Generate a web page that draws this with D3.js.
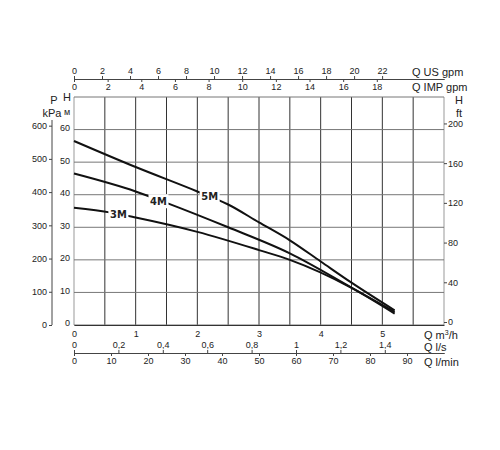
<!DOCTYPE html>
<html><head><meta charset="utf-8">
<script src="https://cdn.jsdelivr.net/npm/d3@7"></script>
<style>body{margin:0;background:#fff}text{font-family:"Liberation Sans",Arial,sans-serif;fill:#222}</style>
</head><body><svg id="canvas"></svg>
<script>
const width = 500, height = 450
// curves: [Q m3/h, H m]
const curve3M = [[0,36],[0.6,34.5],[1,33],[2,28.6],[3,23],[3.5,20],[4.5,11.4],[5.2,3.5]]
const curve4M = [[0,46.5],[1,41],[1.5,37.5],[2.5,30],[3.5,22],[4.5,11.5],[5.2,4]]
const curve5M = [[0,56.5],[1,48.5],[2,41],[2.5,37],[3,31.5],[3.5,26],[4,19.5],[4.5,13],[5.2,4.5]]
const curveNames = ["3M", "4M", "5M"]
const labelPos = [[0.72,34], [1.37,38], [2.2,39.5]]
const usGpmTicks = d3.range(0, 23, 2)
const impGpmTicks = d3.range(0, 19, 2)
const m3hTicks = [0,1,2,3,4,5]
const lsTicks = [0,0.2,0.4,0.6,0.8,1,1.2,1.4]
const lminTicks = d3.range(0, 91, 10)
const mTicks = [0,10,20,30,40,50,60]
const kpaTicks = [0,100,200,300,400,500,600]
const ftTicks = [0,40,80,120,160,200]

const svg = d3.select("#canvas").attr("width", width).attr("height", height)
const x = d3.scaleLinear().domain([0, 6]).range([74, 444])
const y = d3.scaleLinear().domain([0, 70]).range([325, 97])
const fmt = d => String(d).replace(".", ",")

// grid
svg.append("g").selectAll("line").data(d3.range(0, 6.01, 0.5)).join("line")
  .attr("x1", d => x(d)).attr("x2", d => x(d)).attr("y1", y(0)).attr("y2", y(70))
  .attr("stroke", (d, i) => i == 0 || i == 12 ? "#999" : "#333").attr("stroke-width", 1)
svg.append("g").selectAll("line").data(d3.range(0, 71, 10)).join("line")
  .attr("x1", x(0)).attr("x2", x(6)).attr("y1", d => y(d)).attr("y2", d => y(d))
  .attr("stroke", "#777").attr("stroke-width", 1)

const axisStyle = g => { g.selectAll("text").style("font-size", "9px"); g.select(".domain").attr("stroke", "#444"); g.selectAll(".tick line").attr("stroke", "#444") }

// top axes
const xUs = d3.scaleLinear().domain([0, 6 / 0.2271]).range([74, 444])
const xImp = d3.scaleLinear().domain([0, 6 / 0.2728]).range([74, 444])
svg.append("g").attr("transform", "translate(0,79)")
  .call(d3.axisTop(xUs).tickValues(usGpmTicks).tickSize(3).tickPadding(2).tickSizeOuter(0)).call(axisStyle)
svg.append("g").attr("transform", "translate(0,79)")
  .call(d3.axisBottom(xImp).tickValues(impGpmTicks).tickSize(3).tickPadding(2).tickSizeOuter(0)).call(axisStyle)

// bottom axes
svg.append("g").attr("transform", "translate(0,325)")
  .call(d3.axisBottom(x).tickValues(m3hTicks).tickFormat(d3.format("d")).tickSize(0).tickPadding(6)).call(axisStyle)
  .select(".domain").attr("stroke", "#333")
const xLs = d3.scaleLinear().domain([0, 6 / 3.6]).range([74, 444])
const xLmin = d3.scaleLinear().domain([0, 100]).range([74, 444])
svg.append("g").attr("transform", "translate(0,353)")
  .call(d3.axisTop(xLs).tickValues(lsTicks).tickFormat(fmt).tickSize(3).tickPadding(2).tickSizeOuter(0)).call(axisStyle)
svg.append("g").attr("transform", "translate(0,353)")
  .call(d3.axisBottom(xLmin).tickValues(lminTicks).tickSize(3).tickPadding(2).tickSizeOuter(0)).call(axisStyle)

// left axes
svg.append("g").attr("transform", "translate(74,-2)")
  .call(d3.axisLeft(y).tickValues(mTicks).tickSize(0).tickPadding(4)).call(axisStyle)
  .select(".domain").remove()
const yKpa = d3.scaleLinear().domain([0, 70 / 0.102]).range([325, 97])
svg.append("g").attr("transform", "translate(52,0)")
  .call(d3.axisLeft(yKpa).tickValues(kpaTicks).tickSize(3).tickPadding(2).tickSizeOuter(0)).call(axisStyle)
  .select(".domain").attr("d", "M0," + yKpa(0) + "V120")
// right axis
const yFt = d3.scaleLinear().domain([0, 70 / 0.3048]).range([325, 97])
svg.append("g").attr("transform", "translate(444,-3)")
  .call(d3.axisRight(yFt).tickValues(ftTicks).tickSize(3).tickPadding(1)).call(axisStyle)
  .select(".domain").remove()

// curves
const line = d3.line().x(d => x(d[0])).y(d => y(d[1])).curve(d3.curveMonotoneX)
const curves = [curve3M, curve4M, curve5M]
svg.append("g").selectAll("path").data(curves).join("path")
  .attr("d", line).attr("fill", "none").attr("stroke", "#111").attr("stroke-width", 2)
const lab = svg.append("g").selectAll("g").data(curveNames).join("g")
  .attr("transform", (d, i) => `translate(${x(labelPos[i][0])},${y(labelPos[i][1])})`)
lab.append("rect").attr("x", -10).attr("y", -7).attr("width", 20).attr("height", 14).attr("fill", "#fff")
lab.append("text").text(d => d).attr("text-anchor", "middle").attr("dy", 4)
  .style("font-size", "11px").style("font-weight", "bold").style("font-family", "'DejaVu Sans Condensed','DejaVu Sans'")

// titles
const t = (tx, ty, s, anchor) => svg.append("text").attr("x", tx).attr("y", ty).text(s)
  .attr("text-anchor", anchor || "start").style("font-size", "11px")
t(412, 76, "Q US gpm"); t(412, 91, "Q IMP gpm")
svg.append("text").attr("x", 424).attr("y", 339).style("font-size", "11px")
  .html('Q m<tspan dy="-4" font-size="7">3</tspan><tspan dy="4">/h</tspan>')
t(424, 351, "Q l/s"); t(424, 366, "Q l/min")
t(54, 104, "P", "middle"); t(52, 117, "kPa", "middle")
t(67, 101, "H", "middle"); svg.append("text").attr("x", 67).attr("y", 115).text("м")
  .attr("text-anchor", "middle").style("font-size", "9px")
t(459, 104, "H", "middle"); t(459, 117, "ft", "middle")
</script></body></html>
